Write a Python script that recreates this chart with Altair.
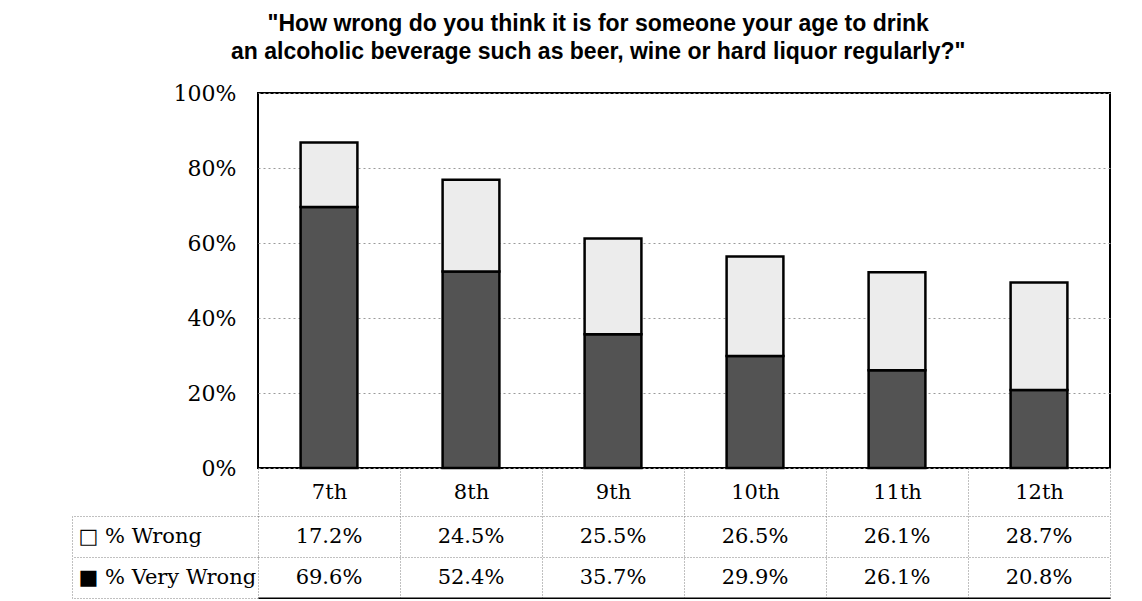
import altair as alt
import pandas as pd

grades = ["7th", "8th", "9th", "10th", "11th", "12th"]
pct_wrong = [17.2, 24.5, 25.5, 26.5, 26.1, 28.7]
pct_very_wrong = [69.6, 52.4, 35.7, 29.9, 26.1, 20.8]
series = ["% Wrong", "% Very Wrong"]
series_colors = ["#ececec", "#535353"]
row_labels = ["\u25a1 % Wrong", "\u25a0 % Very Wrong"]
y_ticks = [0, 0.2, 0.4, 0.6, 0.8, 1.0]
title_lines = [
    '"How wrong do you think it is for someone your age to drink',
    'an alcoholic beverage such as beer, wine or hard liquor regularly?"',
]

rows = []
for g, w, vw in zip(grades, pct_wrong, pct_very_wrong):
    rows.append({"grade": g, "series": series[1], "row": row_labels[1], "value": vw / 100, "order": 0})
    rows.append({"grade": g, "series": series[0], "row": row_labels[0], "value": w / 100, "order": 1})
df = pd.DataFrame(rows)

SERIF = "DejaVu Serif"
W = 852
EXT = 244
GRID = "#808080"

bars = alt.Chart(df).mark_bar(
    stroke="black", strokeWidth=2.5, width=alt.RelativeBandSize(0.4)
).encode(
    x=alt.X(
        "grade:N", sort=grades,
        scale=alt.Scale(paddingInner=0, paddingOuter=0),
        axis=alt.Axis(
            title=None, labelAngle=0, labelFont=SERIF, labelFontSize=21, labelColor="black",
            tickBand="extent", ticks=True, tickSize=46, tickColor=GRID, tickDash=[1, 2],
            tickWidth=1, labelPadding=-22, labelBaseline="middle", domain=False,
            minExtent=46, maxExtent=46,
        ),
    ),
    y=alt.Y(
        "value:Q", stack="zero",
        scale=alt.Scale(domain=[0, 1], nice=False),
        axis=alt.Axis(
            title=None, values=y_ticks, format=".0%", labelFont=SERIF, labelFontSize=22,
            labelColor="black", labelPadding=22, ticks=False, domain=False,
            grid=True, gridColor="#9a9a9a", gridDash=[2, 3], gridWidth=1,
            minExtent=EXT, maxExtent=EXT,
        ),
    ),
    color=alt.Color("series:N", scale=alt.Scale(domain=series, range=series_colors), legend=None),
    order=alt.Order("order:Q", sort="ascending"),
).properties(
    width=W, height=375,
    view=alt.ViewBackground(stroke="black", strokeWidth=2),
)

row_scale = alt.Scale(paddingInner=0, paddingOuter=0)
tbase = alt.Chart(df).encode(
    x=alt.X(
        "grade:N", sort=grades,
        scale=alt.Scale(paddingInner=0, paddingOuter=0),
        axis=alt.Axis(
            title=None, labels=False, ticks=False, domain=True, domainColor="black",
            domainWidth=2, grid=True, tickBand="extent", gridColor=GRID, gridDash=[1, 2],
            gridWidth=1,
        ),
    ),
)
table_text = tbase.mark_text(font=SERIF, fontSize=21, color="black").encode(
    y=alt.Y(
        "row:N", sort=row_labels, scale=row_scale,
        axis=alt.Axis(
            title=None, labelFont=SERIF, labelFontSize=21, labelColor="black",
            labelAlign="left", labelBaseline="middle", labelPadding=-6,
            tickBand="extent", tickSize=186, tickColor=GRID, tickDash=[1, 2], tickWidth=1,
            grid=True, gridColor=GRID, gridDash=[1, 2], gridWidth=1, domain=False,
            minExtent=EXT, maxExtent=EXT,
        ),
    ),
    text=alt.Text("value:Q", format=".1%"),
)
table_edge = tbase.mark_text(opacity=0).encode(
    y=alt.Y(
        "row:N", sort=row_labels, scale=row_scale,
        axis=alt.Axis(
            title=None, orient="left", offset=186, labels=False, ticks=False, grid=False,
            domain=True, domainColor=GRID, domainDash=[1, 2], domainWidth=1,
        ),
    ),
    text=alt.Text("value:Q", format=".1%"),
)
table = alt.layer(table_text, table_edge).resolve_axis(y="independent").properties(
    width=W, height=82
)

chart = alt.vconcat(bars, table, spacing=-17).properties(
    padding={"left": 5, "top": 5, "right": 5, "bottom": 0},
    title=alt.TitleParams(
        text=title_lines, font="Liberation Sans", fontSize=23, fontWeight="bold",
        lineHeight=28, anchor="middle", color="black", offset=17, dx=36,
    ),
).configure_view(stroke=None)

chart.save("out.html", embed_options={"renderer": "svg", "actions": False})
